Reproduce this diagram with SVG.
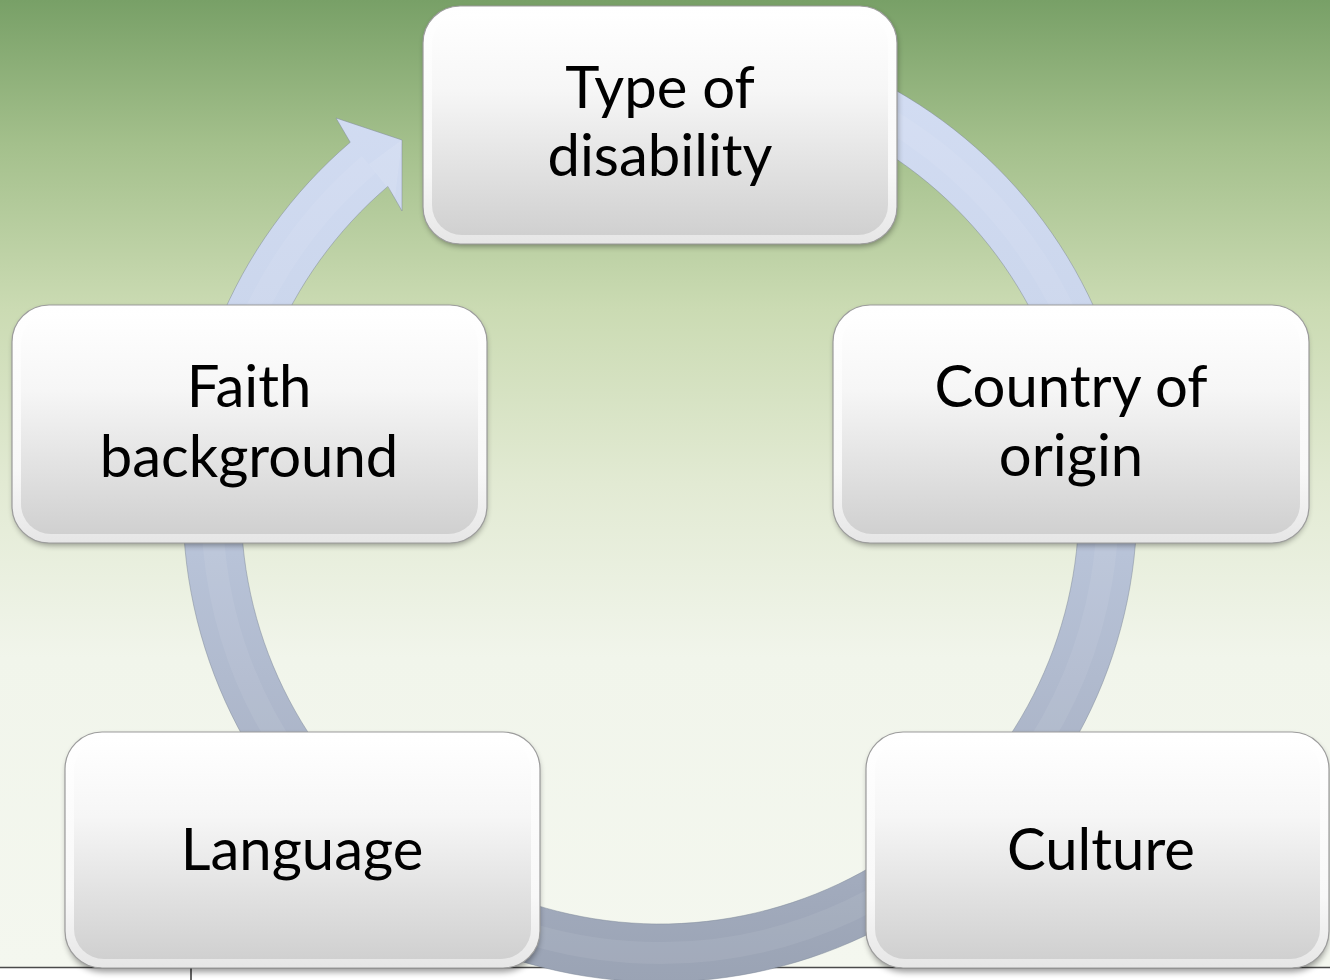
<svg xmlns="http://www.w3.org/2000/svg" width="1330" height="980" viewBox="0 0 1330 980">
  <style>
    .label { font-family: Lato, "Open Sans", "Liberation Sans", sans-serif; font-size: 58px; fill: #000; text-anchor: middle; }
    .rim { fill: url(#rimGrad); stroke: #9c9c9c; stroke-width: 1.2; }
    .face { fill: url(#faceGrad); }
    .shade { fill: #000; opacity: 0.4; filter: url(#soft); }
  </style>
  <defs>
    <linearGradient id="bgGrad" x1="0" y1="0" x2="0" y2="967" gradientUnits="userSpaceOnUse">
      <stop offset="0" stop-color="#78a067"/>
      <stop offset="0.15" stop-color="#a4c08c"/>
      <stop offset="0.32" stop-color="#cbdbb3"/>
      <stop offset="0.5" stop-color="#e2ead3"/>
      <stop offset="0.68" stop-color="#f1f5eb"/>
      <stop offset="1" stop-color="#f4f7ef"/>
    </linearGradient>
    <linearGradient id="ringGrad" x1="0" y1="28" x2="0" y2="982" gradientUnits="userSpaceOnUse">
      <stop offset="0" stop-color="#d4def4"/>
      <stop offset="0.3" stop-color="#cbd6ec"/>
      <stop offset="0.55" stop-color="#b8c3d8"/>
      <stop offset="0.8" stop-color="#a9b2c5"/>
      <stop offset="1" stop-color="#9aa3b4"/>
    </linearGradient>
    <linearGradient id="rimGrad" x1="0" y1="0" x2="0" y2="1">
      <stop offset="0" stop-color="#ffffff"/>
      <stop offset="0.7" stop-color="#f8f8f8"/>
      <stop offset="1" stop-color="#e6e6e6"/>
    </linearGradient>
    <linearGradient id="faceGrad" x1="0" y1="0" x2="0" y2="1">
      <stop offset="0" stop-color="#ffffff"/>
      <stop offset="0.35" stop-color="#f6f6f6"/>
      <stop offset="1" stop-color="#d0d0d0"/>
    </linearGradient>
    <filter id="soft" x="-10%" y="-10%" width="120%" height="130%">
      <feGaussianBlur stdDeviation="3"/>
    </filter>
  </defs>

  <!-- backdrop -->
  <rect x="0" y="0" width="1330" height="980" fill="#ffffff"/>
  <rect x="0" y="0" width="1330" height="967" fill="url(#bgGrad)"/>
  <line x1="0" y1="967.5" x2="1330" y2="967.5" stroke="#4a4a4a" stroke-width="1.5"/>
  <line x1="191" y1="967" x2="191" y2="980" stroke="#333333" stroke-width="1.5"/>

  <!-- circular arrow behind the nodes -->
  <g id="connectors">
    <path d="M577.17,35.25 A477,477 0 1 1 350.21,142.28 L336,118 L402,140 L402,211 L387.88,186.39 A419,419 0 1 0 587.24,92.36 Z"
          fill="url(#ringGrad)" stroke="#7f889a" stroke-opacity="0.55" stroke-width="0.9"/>
    <path d="M582.2,63.8 A448,448 0 1 1 369,164.3" fill="none" stroke="#ffffff" stroke-opacity="0.07" stroke-width="22"/>
    <path d="M369,164.3 L402,140 L395,197 Z" fill="#ffffff" fill-opacity="0.1"/>
  </g>

  <g id="node-type">
    <rect class="shade" x="425" y="10" width="472" height="236" rx="36"/>
    <rect class="rim" x="423" y="6" width="474" height="238" rx="37"/>
    <rect class="face" x="432" y="14" width="456" height="221" rx="30"/>
    <text class="label" x="660" y="108">Type of</text>
    <text class="label" x="660" y="176">disability</text>
  </g>

  <g id="node-faith">
    <rect class="shade" x="14" y="309" width="472" height="236" rx="36"/>
    <rect class="rim" x="12" y="305" width="475" height="238" rx="37"/>
    <rect class="face" x="21" y="313" width="457" height="221" rx="30"/>
    <text class="label" x="249" y="407">Faith</text>
    <text class="label" x="249" y="477">background</text>
  </g>

  <g id="node-country">
    <rect class="shade" x="835" y="309" width="472" height="236" rx="36"/>
    <rect class="rim" x="833" y="305" width="476" height="238" rx="37"/>
    <rect class="face" x="842" y="313" width="458" height="221" rx="30"/>
    <text class="label" x="1071" y="407">Country of</text>
    <text class="label" x="1071" y="476">origin</text>
  </g>

  <g id="node-language">
    <rect class="shade" x="67" y="736" width="472" height="236" rx="36"/>
    <rect class="rim" x="65" y="732" width="475" height="236" rx="37"/>
    <rect class="face" x="74" y="740" width="457" height="219" rx="30"/>
    <text class="label" x="302" y="870">Language</text>
  </g>

  <g id="node-culture">
    <rect class="shade" x="868" y="736" width="460" height="236" rx="36"/>
    <rect class="rim" x="866" y="732" width="463" height="236" rx="37"/>
    <rect class="face" x="875" y="740" width="445" height="219" rx="30"/>
    <text class="label" x="1101" y="870">Culture</text>
  </g>
</svg>
